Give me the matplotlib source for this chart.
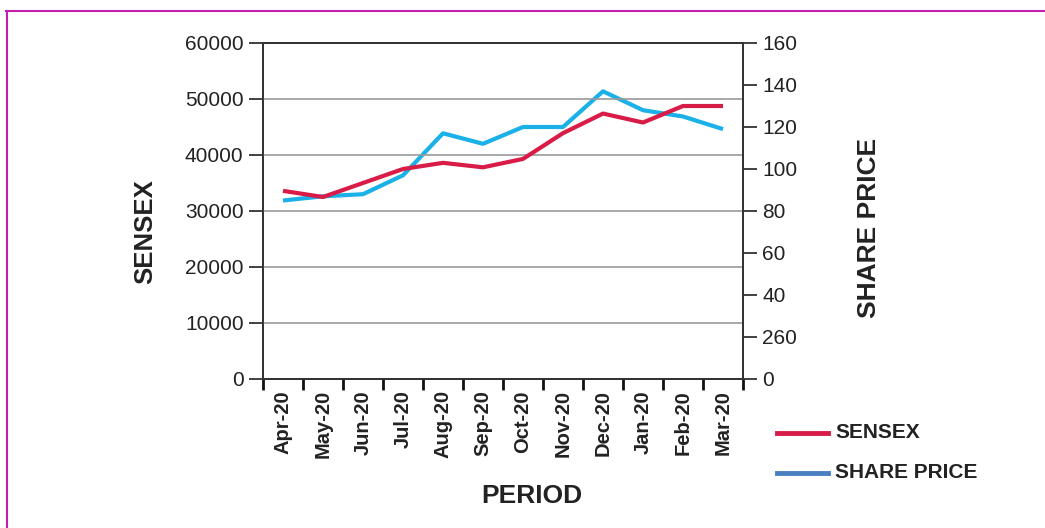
import numpy as np
import matplotlib.pyplot as plt
from matplotlib.lines import Line2D

plt.rcParams['font.family'] = ['Liberation Sans', 'DejaVu Sans']

# data
months = ["Apr-20", "May-20", "Jun-20", "Jul-20", "Aug-20", "Sep-20",
          "Oct-20", "Nov-20", "Dec-20", "Jan-20", "Feb-20", "Mar-20"]
sensex = [33600, 32500, 35000, 37500, 38600, 37800,
          39300, 43900, 47400, 45800, 48750, 48750]
share_price = [85, 87, 88, 97, 117, 112, 120, 120, 137, 128, 125, 119]
left_ticks = [0, 10000, 20000, 30000, 40000, 50000, 60000]
right_ticks = [0, 20, 40, 60, 80, 100, 120, 140, 160]
right_labels = ["0", "260", "40", "60", "80", "100", "120", "140", "160"]

red = "#d91c47"
cyan = "#1ab0e8"
legend_blue = "#4a7fc1"
axcol = "#333333"

fig = plt.figure(figsize=(10.45, 5.28), dpi=100)
ax = fig.add_axes([263 / 1045, 1 - 379 / 528, 480 / 1045, 336 / 528])
ax2 = ax.twinx()

x = np.arange(len(months))
ax.plot(x, sensex, color=red, lw=3, zorder=3, solid_capstyle="butt")
ax2.plot(x, share_price, color=cyan, lw=3, zorder=2, solid_capstyle="butt")
ax.set_zorder(ax2.get_zorder() + 1)
ax.patch.set_visible(False)

ax.set_xlim(-0.5, len(months) - 0.5)
ax.set_ylim(0, 60000)
ax2.set_ylim(0, 160)

ax.set_yticks(left_ticks)
ax.set_yticklabels([str(v) for v in left_ticks], fontsize=15, color="#222222")
ax2.set_yticks(right_ticks)
ax2.set_yticklabels(right_labels, fontsize=15, color="#222222")

# category ticks sit between the months
ax.set_xticks(np.arange(-0.5, len(months), 1.0))
ax.set_xticklabels([])
ax.set_xticks(x, minor=True)
ax.set_xticklabels(months, minor=True, rotation=90, fontsize=14.5,
                   fontweight="bold", color="#222222")
ax.tick_params(axis="x", which="major", length=8, width=2, color="#111111")
ax.tick_params(axis="x", which="minor", length=0, pad=8)
ax.tick_params(axis="y", length=10, width=1.3, color=axcol, pad=4)
ax2.tick_params(axis="y", length=10, width=1.3, color=axcol, pad=4)

for a in (ax, ax2):
    for s in a.spines.values():
        s.set_color(axcol)
        s.set_linewidth(1.3)

for v in left_ticks[1:-1]:
    ax.axhline(v, color="#999999", lw=1.2, zorder=1)

fig.text(145 / 1045, 1 - 232 / 528, "SENSEX", rotation=90, fontsize=18.5,
         fontweight="bold", ha="center", va="center", color="#222222")
fig.text(869 / 1045, 1 - 228 / 528, "SHARE PRICE", rotation=90, fontsize=19,
         fontweight="bold", ha="center", va="center", color="#222222")
fig.text(532 / 1045, 1 - 496 / 528, "PERIOD", fontsize=19,
         fontweight="bold", ha="center", va="center", color="#222222")

# legend drawn by hand in figure coordinates
for yy, col, lab in [(433, red, "SENSEX"), (473, legend_blue, "SHARE PRICE")]:
    fig.add_artist(Line2D([777 / 1045, 828 / 1045], [1 - yy / 528] * 2,
                          color=col, lw=3.5, transform=fig.transFigure))
    fig.text(835 / 1045, 1 - yy / 528, lab, fontsize=15, fontweight="bold",
             ha="left", va="center", color="#222222")

# magenta frame (top and left edges visible)
fig.add_artist(Line2D([6 / 1045, 1.0], [1 - 10.5 / 528] * 2, color="#c21fb0",
                      lw=1.5, transform=fig.transFigure))
fig.add_artist(Line2D([6.5 / 1045] * 2, [0, 1 - 10.5 / 528], color="#c21fb0",
                      lw=1.5, transform=fig.transFigure))

fig.savefig("out.png", dpi=100)
